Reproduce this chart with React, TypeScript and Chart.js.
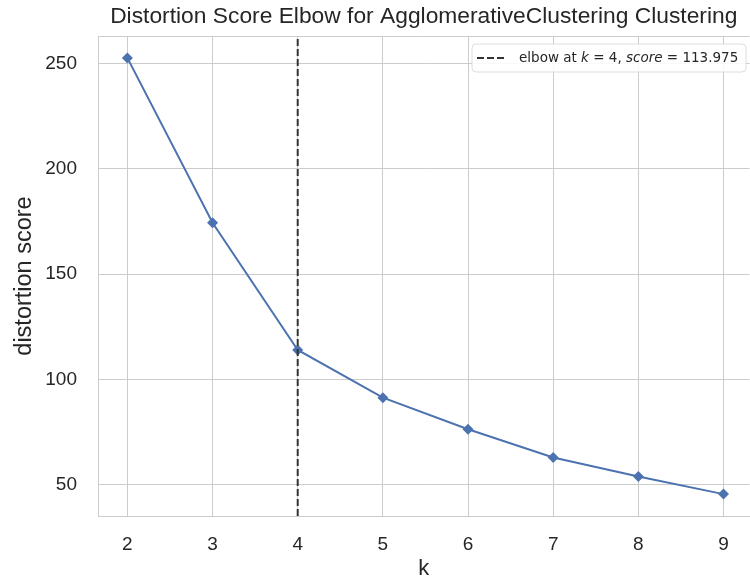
import React, { useEffect, useRef } from "react";
import { Chart, registerables } from "chart.js";

Chart.register(...registerables);

const kValues = [2, 3, 4, 5, 6, 7, 8, 9];
const distortion = [252.7, 174.4, 113.975, 91.3, 76.3, 62.9, 53.9, 45.5];
const elbowK = 4;
const elbowScore = 113.975;
const xTicks = [2, 3, 4, 5, 6, 7, 8, 9];
const yTicks = [50, 100, 150, 200, 250];
const titleText = "Distortion Score Elbow for AgglomerativeClustering Clustering";

const Y_MIN = 35.1;
const Y_MAX = 263.1;
const FONT = "'Liberation Sans', Arial, sans-serif";

const spines = {
  id: "spines",
  beforeDatasetsDraw(chart: any) {
    const ctx = chart.ctx;
    const a = chart.chartArea;
    ctx.save();
    ctx.strokeStyle = "#cccccc";
    ctx.lineWidth = 1;
    ctx.beginPath();
    ctx.moveTo(a.left, Math.round(a.top) + 0.5);
    ctx.lineTo(a.right, Math.round(a.top) + 0.5);
    ctx.stroke();
    ctx.restore();
  },
};

const overlay = {
  id: "overlay",
  afterDraw(chart: any) {
    const ctx = chart.ctx;
    const a = chart.chartArea;
    ctx.save();
    // title
    ctx.fillStyle = "#262626";
    ctx.font = "22.8px " + FONT;
    ctx.textAlign = "center";
    ctx.textBaseline = "middle";
    ctx.fillText(titleText, (a.left + a.right) / 2, 17);

    // legend
    const bx = 472, by = 44, bw = 274, bh = 28, r = 4;
    ctx.fillStyle = "rgba(255,255,255,0.85)";
    ctx.strokeStyle = "#dddddd";
    ctx.lineWidth = 1;
    ctx.beginPath();
    ctx.moveTo(bx + r, by);
    ctx.lineTo(bx + bw - r, by);
    ctx.quadraticCurveTo(bx + bw, by, bx + bw, by + r);
    ctx.lineTo(bx + bw, by + bh - r);
    ctx.quadraticCurveTo(bx + bw, by + bh, bx + bw - r, by + bh);
    ctx.lineTo(bx + r, by + bh);
    ctx.quadraticCurveTo(bx, by + bh, bx, by + bh - r);
    ctx.lineTo(bx, by + r);
    ctx.quadraticCurveTo(bx, by, bx + r, by);
    ctx.closePath();
    ctx.fill();
    ctx.stroke();

    const cy = by + bh / 2;
    ctx.strokeStyle = "#333333";
    ctx.lineWidth = 2;
    ctx.setLineDash([7, 3]);
    ctx.beginPath();
    ctx.moveTo(477, cy);
    ctx.lineTo(506, cy);
    ctx.stroke();
    ctx.setLineDash([]);

    const segs: [string, boolean][] = [
      ["elbow at ", false],
      ["k", true],
      [" = " + elbowK + ", ", false],
      ["score", true],
      [" = " + elbowScore.toFixed(3), false],
    ];
    let x = 519;
    ctx.fillStyle = "#262626";
    ctx.textAlign = "left";
    ctx.textBaseline = "middle";
    for (const [t, it] of segs) {
      ctx.font = (it ? "italic " : "") + "13.5px 'DejaVu Sans', sans-serif";
      ctx.fillText(t, x, cy);
      x += ctx.measureText(t).width;
    }
    ctx.restore();
  },
};

export default function App() {
  const ref = useRef<HTMLCanvasElement | null>(null);
  useEffect(() => {
    if (!ref.current) return;
    const chart = new Chart(ref.current, {
      type: "scatter",
      data: {
        datasets: [
          {
            label: "elbow",
            data: [
              { x: elbowK, y: Y_MIN },
              { x: elbowK, y: Y_MAX },
            ],
            showLine: true,
            borderColor: "#333333",
            borderWidth: 2,
            borderDash: [7, 3],
            pointRadius: 0,
            order: 0,
          },
          {
            label: "distortion",
            data: kValues.map((k, i) => ({ x: k, y: distortion[i] })),
            showLine: true,
            borderColor: "#4C72B0",
            backgroundColor: "#4C72B0",
            borderWidth: 2,
            pointStyle: "rectRot",
            pointRadius: 5.5,
            pointBorderWidth: 0,
            order: 1,
          },
        ],
      },
      options: {
        responsive: false,
        animation: false,
        layout: { padding: { left: 0, right: 0, top: 36, bottom: 0 } },
        plugins: {
          legend: { display: false },
          tooltip: { enabled: false },
          title: { display: false },
        },
        scales: {
          x: {
            type: "linear",
            min: 1.655,
            max: 9.305,
            afterBuildTicks(axis: any) {
              axis.ticks = xTicks.map((v) => ({ value: v }));
            },
            afterFit(axis: any) {
              axis.height = 66;
              axis.paddingLeft = 0;
              axis.paddingRight = 0;
            },
            grid: { color: "#cccccc", drawTicks: false, lineWidth: 1 },
            border: { color: "#cccccc" },
            ticks: {
              color: "#262626",
              font: { family: FONT, size: 19 },
              padding: 17,
              callback: (v: any) => String(v),
            },
            title: {
              display: true,
              text: "k",
              color: "#262626",
              font: { family: FONT, size: 22 },
              padding: 0,
            },
          },
          y: {
            type: "linear",
            min: Y_MIN,
            max: Y_MAX,
            afterBuildTicks(axis: any) {
              axis.ticks = yTicks.map((v) => ({ value: v }));
            },
            afterFit(axis: any) {
              axis.width = 98;
              axis.paddingTop = 0;
              axis.paddingBottom = 0;
            },
            grid: { color: "#cccccc", drawTicks: false, lineWidth: 1 },
            border: { color: "#cccccc" },
            ticks: {
              color: "#262626",
              font: { family: FONT, size: 19 },
              padding: 21,
              callback: (v: any) => String(v),
            },
            title: {
              display: true,
              text: "distortion score",
              color: "#262626",
              font: { family: FONT, size: 23.5 },
              padding: { top: 10, bottom: 0 },
            },
          },
        },
      },
      plugins: [spines, overlay],
    });
    return () => chart.destroy();
  }, []);
  return (
    <div style={{ position: "absolute", left: 0, top: 0, width: 750, height: 582, overflow: "hidden", background: "#fff" }}>
      <canvas ref={ref} width={755} height={582} style={{ display: "block" }} />
    </div>
  );
}
